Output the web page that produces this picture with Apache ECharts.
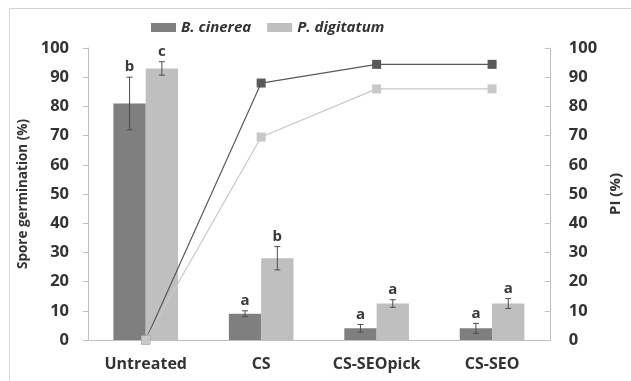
<!DOCTYPE html>
<html>
<head>
<meta charset="utf-8">
<script src="https://cdn.jsdelivr.net/npm/echarts@6/dist/echarts.min.js"></script>
<style>
  html, body { margin: 0; padding: 0; background: #fff; }
  #chart { width: 631px; height: 381px; }
</style>
</head>
<body>
<div id="chart"></div>
<script>
// Treatments along the x axis
const categories = ['Untreated', 'CS', 'CS-SEOpick', 'CS-SEO'];

// Spore germination (%) with standard error, per pathogen
const bcinereaGerm = [81, 9, 4, 4];
const bcinereaErr = [9, 1, 1.3, 1.7];
const pdigitatumGerm = [93, 28, 12.5, 12.5];
const pdigitatumErr = [2.3, 4, 1.3, 1.7];

// Significance letters above each bar
const bcinereaLetters = ['b', 'a', 'a', 'a'];
const pdigitatumLetters = ['c', 'b', 'a', 'a'];

// Percentage of inhibition (PI, %) on the right axis
const bcinereaPI = [0, 88, 94.4, 94.4];
const pdigitatumPI = [0, 69.5, 86, 86];

const leftTicks = [0, 10, 20, 30, 40, 50, 60, 70, 80, 90, 100];

const DARK = '#7f7f7f';
const LIGHT = '#bfbfbf';
const TEXT = '#333333';
const FONT = '"Open Sans", "Liberation Sans", sans-serif';
const BAR_FRAC = 0.28;

// Error bar + letter drawn on top of each bar; side = -1 (left bar) or +1 (right bar)
function errorSeries(means, errs, letters, side) {
  return {
    type: 'custom',
    name: 'err' + side,
    z: 5,
    silent: true,
    data: means.map((m, i) => [i, m, errs[i]]),
    renderItem: function (params, api) {
      const idx = api.value(0);
      const mean = api.value(1);
      const err = api.value(2);
      const band = api.size([1, 0])[0];
      const bw = band * BAR_FRAC;
      const cx = api.coord([idx, mean])[0] + side * bw / 2;
      const yTop = api.coord([idx, mean + err])[1];
      const yBot = api.coord([idx, mean - err])[1];
      const cap = 3;
      const st = { stroke: '#4d4d4d', lineWidth: 1 };
      return {
        type: 'group',
        children: [
          { type: 'line', shape: { x1: cx, y1: yTop, x2: cx, y2: yBot }, style: st },
          { type: 'line', shape: { x1: cx - cap, y1: yTop, x2: cx + cap, y2: yTop }, style: st },
          { type: 'line', shape: { x1: cx - cap, y1: yBot, x2: cx + cap, y2: yBot }, style: st },
          {
            type: 'text',
            style: {
              text: letters[params.dataIndex],
              x: cx, y: yTop - 10,
              align: 'center', verticalAlign: 'middle',
              fill: '#3a3a3a',
              font: 'bold 15px ' + FONT
            }
          }
        ]
      };
    }
  };
}

const chart = echarts.init(document.getElementById('chart'), null, { renderer: 'canvas' });

chart.setOption({
  backgroundColor: '#ffffff',
  animation: false,
  graphic: [{
    type: 'rect',
    left: 7, top: 6,
    shape: { width: 700, height: 500 },
    style: { fill: 'none', stroke: '#d4d4d4', lineWidth: 1 },
    silent: true
  }],
  legend: {
    data: ['B. cinerea', 'P. digitatum'],
    left: 146, top: 15,
    itemWidth: 25, itemHeight: 9, itemGap: 16,
    icon: 'rect',
    textStyle: { fontFamily: FONT, fontSize: 15, fontWeight: 'bold', fontStyle: 'italic', color: TEXT }
  },
  grid: { left: 88, right: 79, top: 48, bottom: 41, containLabel: false },
  xAxis: {
    type: 'category',
    data: categories,
    axisLine: { lineStyle: { color: '#bfbfbf' } },
    axisTick: { show: false },
    axisLabel: { interval: 0, margin: 16, fontFamily: FONT, fontSize: 16, fontWeight: 'bold', color: TEXT }
  },
  yAxis: [{
    type: 'value',
    min: 0, max: 100, interval: 10,
    name: 'Spore germination (%)',
    nameLocation: 'middle', nameGap: 56,
    nameTextStyle: { fontFamily: FONT, fontSize: 13.5, fontWeight: 'bold', color: TEXT },
    axisLine: { show: true, lineStyle: { color: '#bfbfbf' } },
    axisTick: { show: true, length: 5, lineStyle: { color: '#bfbfbf' } },
    splitLine: { show: false },
    axisLabel: {
      margin: 19, fontFamily: FONT, fontSize: 16.5, fontWeight: 'bold', color: TEXT,
      formatter: v => String(leftTicks[Math.round(v / 10)])
    }
  }, {
    type: 'value',
    min: 0, max: 100, interval: 10,
    position: 'right',
    name: 'PI (%)',
    nameLocation: 'middle', nameGap: 58,
    nameTextStyle: { fontFamily: FONT, fontSize: 15, fontWeight: 'bold', color: TEXT },
    axisLine: { show: true, lineStyle: { color: '#bfbfbf' } },
    axisTick: { show: true, inside: true, length: 5, lineStyle: { color: '#bfbfbf' } },
    splitLine: { show: false },
    axisLabel: { margin: 19, fontFamily: FONT, fontSize: 16.5, fontWeight: 'bold', color: TEXT }
  }],
  series: [
    {
      name: 'B. cinerea', type: 'bar', data: bcinereaGerm,
      barWidth: (BAR_FRAC * 100) + '%', barGap: '0%',
      itemStyle: { color: DARK }
    },
    {
      name: 'P. digitatum', type: 'bar', data: pdigitatumGerm,
      barWidth: (BAR_FRAC * 100) + '%', barGap: '0%',
      itemStyle: { color: LIGHT }
    },
    errorSeries(bcinereaGerm, bcinereaErr, bcinereaLetters, -1),
    errorSeries(pdigitatumGerm, pdigitatumErr, pdigitatumLetters, 1),
    {
      name: 'PI B. cinerea', type: 'line', yAxisIndex: 1, data: bcinereaPI,
      symbol: 'rect', symbolSize: 9, z: 6,
      lineStyle: { color: '#595959', width: 1.2 },
      itemStyle: { color: '#595959' }
    },
    {
      name: 'PI P. digitatum', type: 'line', yAxisIndex: 1, data: pdigitatumPI,
      symbol: 'rect', symbolSize: 9, z: 7,
      lineStyle: { color: '#c8c8c8', width: 1.2 },
      itemStyle: { color: '#c8c8c8' }
    }
  ]
});
</script>
</body>
</html>
